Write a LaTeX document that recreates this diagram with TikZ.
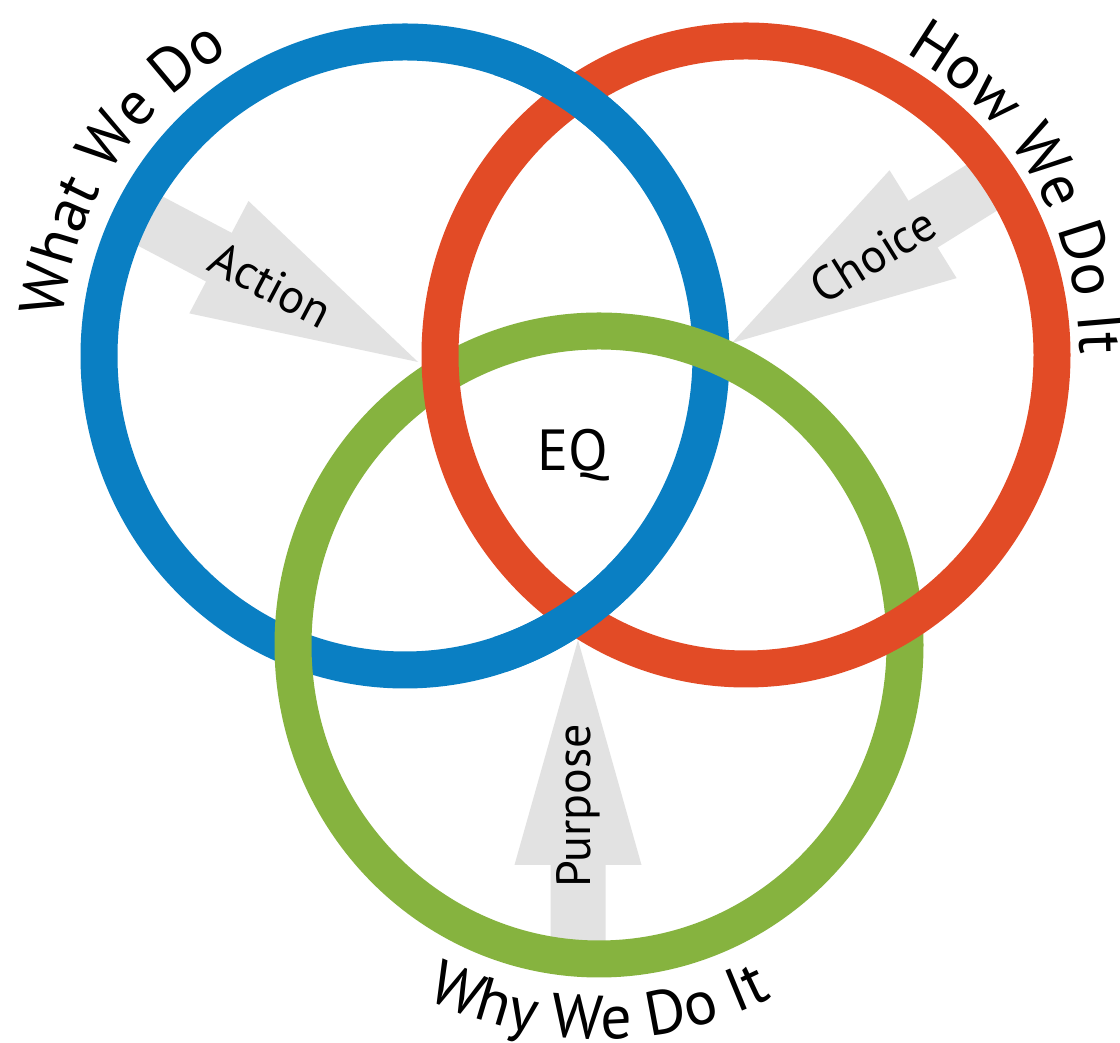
\documentclass[tikz,border=0pt]{standalone}
\usepackage{fontspec}
\setmainfont{PT Sans}
\usepackage{tikz}
\usetikzlibrary{calc}
\usetikzlibrary{decorations.text}

\definecolor{whatblue}{RGB}{10,127,195}
\definecolor{howred}{RGB}{226,75,38}
\definecolor{whygreen}{RGB}{134,179,63}
\definecolor{arrowgray}{RGB}{226,226,226}

\newcommand{\biglabel}{\fontsize{62}{70}\selectfont}
\newcommand{\arrowlabel}{\fontsize{48}{56}\selectfont}

\begin{document}
\begin{tikzpicture}[x=1pt, y=1pt,
		ring/.style={line width=37pt},
		pointer/.style={fill=arrowgray}]
				\useasboundingbox (0, 0) rectangle (1120, 1043);
				\fill[white] (0, 0) rectangle (1120, 1043);

				\coordinate(what) at (405, 687);
				\coordinate(how) at (746, 688);
				\coordinate(why) at (599, 398);

				% grey arrows, behind the rings
				\coordinate(actiontip) at (418, 681);
				\coordinate(actiontail) at (133, 831);
				\coordinate(actionbase) at ($(actiontip)!225pt!(actiontail)$);
				\coordinate(choicetip) at (732, 700);
				\coordinate(choicetail) at (999, 866);
				\coordinate(choicebase) at ($(choicetip)!225pt!(choicetail)$);
				\coordinate(purposetip) at (578, 403);
				\coordinate(purposetail) at (578, 88);
				\coordinate(purposebase) at ($(purposetip)!225pt!(purposetail)$);

				\fill[pointer] ($(actiontail)!27.5pt!90:(actiontip)$) -- ($(actionbase)!27.5pt!90:(actiontip)$) -- ($(actionbase)!63.5pt!90:(actiontip)$) -- (actiontip) -- ($(actionbase)!63.5pt!-90:(actiontip)$) -- ($(actionbase)!27.5pt!-90:(actiontip)$) -- ($(actiontail)!27.5pt!-90:(actiontip)$) -- cycle;
				\fill[pointer] ($(choicetail)!27.5pt!90:(choicetip)$) -- ($(choicebase)!27.5pt!90:(choicetip)$) -- ($(choicebase)!63.5pt!90:(choicetip)$) -- (choicetip) -- ($(choicebase)!63.5pt!-90:(choicetip)$) -- ($(choicebase)!27.5pt!-90:(choicetip)$) -- ($(choicetail)!27.5pt!-90:(choicetip)$) -- cycle;
				\fill[pointer] ($(purposetail)!27.5pt!90:(purposetip)$) -- ($(purposebase)!27.5pt!90:(purposetip)$) -- ($(purposebase)!63.5pt!90:(purposetip)$) -- (purposetip) -- ($(purposebase)!63.5pt!-90:(purposetip)$) -- ($(purposebase)!27.5pt!-90:(purposetip)$) -- ($(purposetail)!27.5pt!-90:(purposetip)$) -- cycle;

				\node[rotate=-27.8] (action) at ($(actiontip)!166pt!(actiontail)$) {\arrowlabel Action};
				\node[rotate=31.9] (choice) at ($(choicetip)!166pt!(choicetail)$) {\arrowlabel Choice};
				\node[rotate=90] (purpose) at ($(purposetip)!166pt!(purposetail)$) {\arrowlabel Purpose};

				% rings: blue under green, green under red, blue again over red
				\draw[ring, whatblue] (what) ellipse [x radius=306, y radius=314];
				\draw[ring, whygreen] (why) ellipse [x radius=306, y radius=314];
				\draw[ring, howred] (how) ellipse [x radius=306, y radius=314];
				\draw[ring, whatblue] ($(what)+({306*cos(40)}, {314*sin(40)})$) arc[start angle=40, end angle=72, x radius=306, y radius=314];
				\draw[ring, whatblue] ($(what)+({306*cos(-72)}, {314*sin(-72)})$) arc[start angle=-72, end angle=-40, x radius=306, y radius=314];

				\node (eq) at (573, 588) {\fontsize{58}{66}\selectfont EQ};

				\path[decorate, decoration={text along path, text align=center, text={|\biglabel|What We Do}}] ($(what)+({345*cos(198)}, {353*sin(198)})$) arc[start angle=198, end angle=96, x radius=345, y radius=353];
				\path[decorate, decoration={text along path, text align=center, text={|\biglabel|How We Do It}}] ($(how)+({334*cos(82)}, {344*sin(82)})$) arc[start angle=82, end angle=-20, x radius=334, y radius=344];
				\path[decorate, decoration={text along path, text align=center, text={|\biglabel|Why We Do It}}] ($(why)+({388*cos(215)}, {394*sin(215)})$) arc[start angle=215, end angle=325, x radius=388, y radius=394];

			\end{tikzpicture}
\end{document}
